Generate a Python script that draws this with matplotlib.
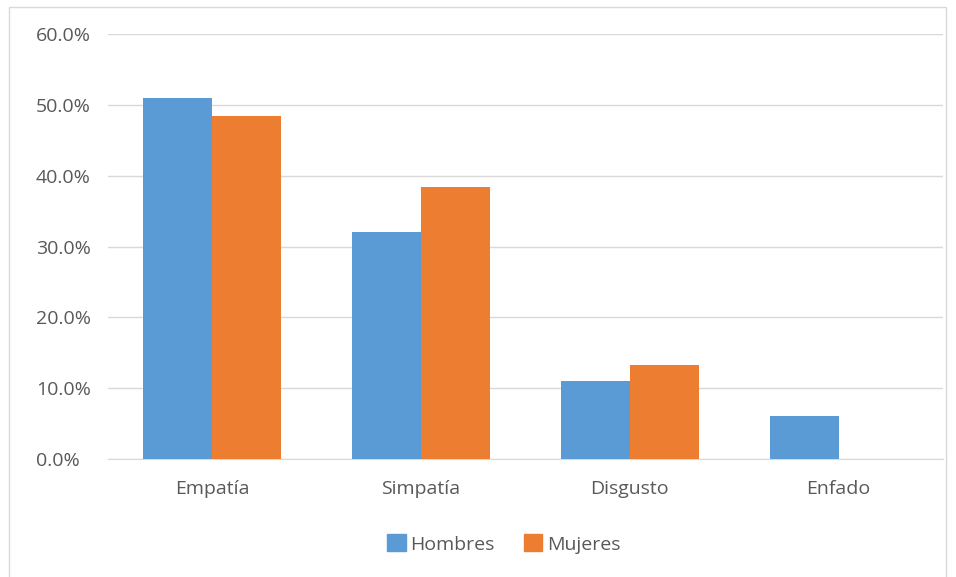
import matplotlib.pyplot as plt
import matplotlib.patches as mpatches
import numpy as np
from matplotlib.ticker import PercentFormatter

categories = ["Empatía", "Simpatía", "Disgusto", "Enfado"]
hombres = [51.0, 32.0, 11.0, 6.1]
mujeres = [48.4, 38.4, 13.3, 0.0]
yticks = [0, 10, 20, 30, 40, 50, 60]

BLUE = "#5b9bd5"
ORANGE = "#ed7d31"
TXT = "#595959"

plt.rcParams["font.family"] = ["Open Sans", "DejaVu Sans"]

fig = plt.figure(figsize=(9.56, 5.77), dpi=100)
ax = fig.add_axes([108 / 956, 118 / 577, 835 / 956, 425 / 577])

x = np.arange(len(categories))
w = 0.33
ax.bar(x - w / 2, hombres, w, color=BLUE, label="Hombres", zorder=3)
ax.bar(x + w / 2, mujeres, w, color=ORANGE, label="Mujeres", zorder=3)

ax.set_xlim(-0.5, len(categories) - 0.5)
ax.set_ylim(0, 60)
ax.set_yticks(yticks)
ax.yaxis.set_major_formatter(PercentFormatter(decimals=1))
ax.set_xticks(x)
ax.set_xticklabels(categories)
ax.grid(axis="y", color="#d9d9d9", linewidth=1, zorder=0)
for s in ["top", "right", "left"]:
    ax.spines[s].set_visible(False)
ax.spines["bottom"].set_color("#d9d9d9")
ax.tick_params(axis="both", length=0, labelsize=14, colors=TXT)
ax.tick_params(axis="x", pad=15)
# y labels are left aligned, starting ~72 px left of the axis
ax.tick_params(axis="y", pad=72 * 0.72)
for lab in ax.get_yticklabels():
    lab.set_horizontalalignment("left")

handles = [mpatches.Patch(color=BLUE, label="Hombres"),
           mpatches.Patch(color=ORANGE, label="Mujeres")]
fig.legend(handles=handles, loc="center", bbox_to_anchor=(504 / 956, 1 - 544 / 577),
           ncol=2, frameon=False, fontsize=14, labelcolor=TXT,
           handlelength=0.95, handleheight=0.95, handletextpad=0.25, columnspacing=1.5)

# outer chart border
fig.add_artist(mpatches.Rectangle((9 / 956, -0.01), 937 / 956, 1 - 7 / 577 + 0.01,
                                  transform=fig.transFigure, fill=False,
                                  edgecolor="#d9d9d9", linewidth=1))

fig.savefig("out.png", dpi=100)
